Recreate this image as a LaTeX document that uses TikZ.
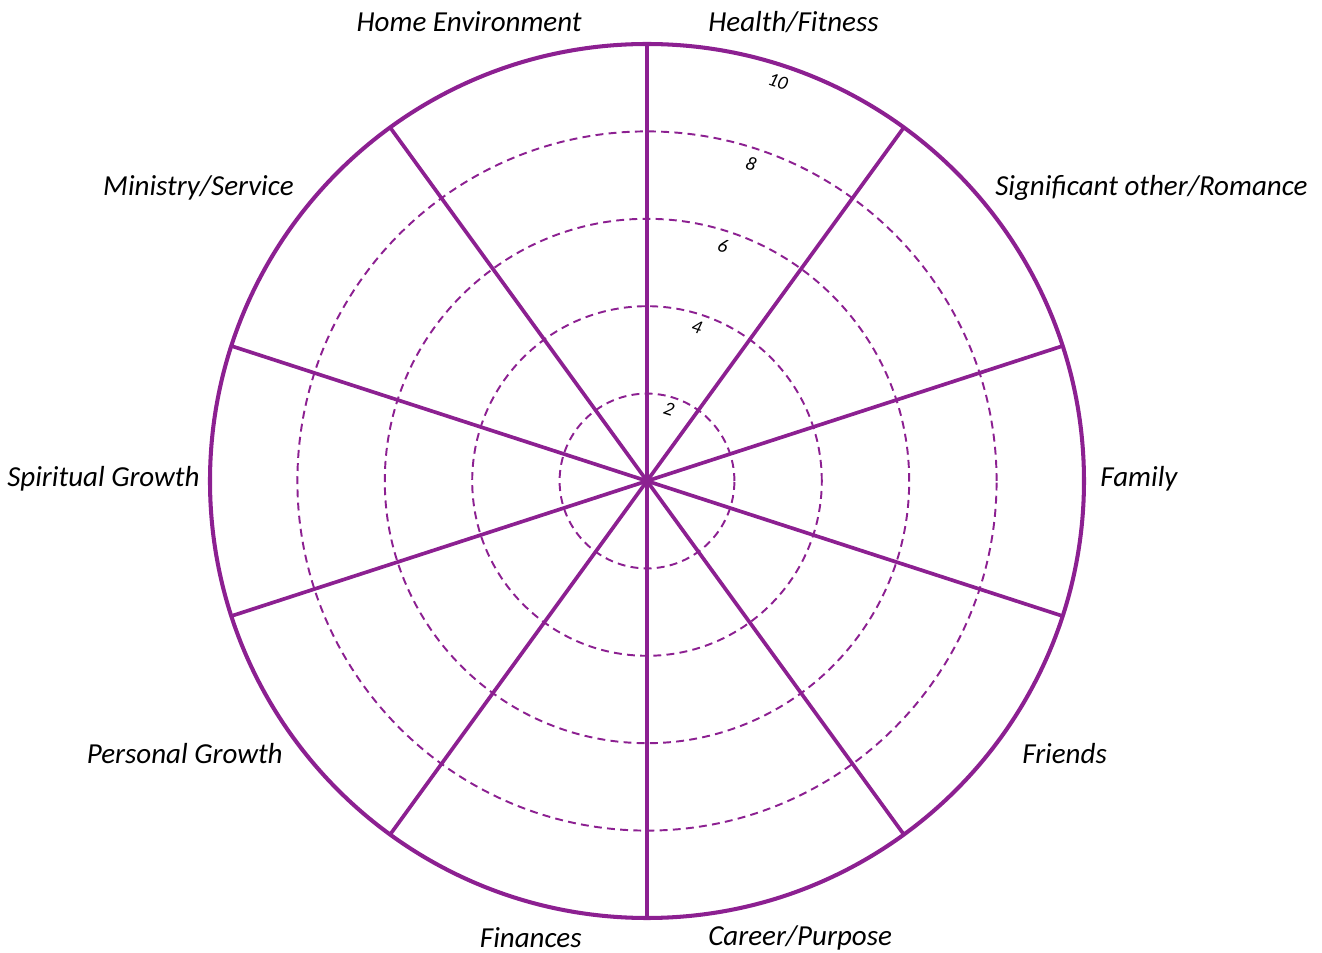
\documentclass[tikz,border=0pt]{standalone}
\usepackage{fontspec}
\setmainfont{Carlito}
\usepackage{tikz}
\usetikzlibrary{positioning}
\usetikzlibrary{calc}

\definecolor{wheelpurple}{RGB}{140,32,145}

\tikzset{
    rim/.style={draw=wheelpurple, line width=2.3pt},
    spoke/.style={draw=wheelpurple, line width=2.1pt},
    ring/.style={draw=wheelpurple, line width=1.1pt, dash pattern=on 4.5pt off 3pt},
    area/.style={font=\fontsize{16.5}{19}\selectfont\itshape, inner sep=0pt},
    score/.style={font=\fontsize{11}{12}\selectfont\itshape, inner sep=0pt, rotate=-18},
}

\begin{document}
\begin{tikzpicture}[x=0.02cm, y=0.02cm]
    \useasboundingbox (-647,-472) rectangle (675,481);

    \coordinate (c) at (0,0);

    % rings
    \foreach \r in {87.4,174.8,262.2,349.6} {
        \draw[ring] (c) circle (\r);
    }

    % spokes
    \foreach \a in {90,54,18,-18,-54} {
        \draw[spoke] ($(c)+(\a:437)$) -- ($(c)+(\a+180:437)$);
    }

    \draw[rim] (c) circle (437);

    % scale
    \node[score] (s2) at (22,72) {2};
    \node[score] (s4) at (50,154) {4};
    \node[score] (s6) at (76,235) {6};
    \node[score] (s8) at (104,317) {8};
    \node[score] (s10) at (131,399) {10};

    % right side
    \node[area, anchor=west] (health) at (61,459) {Health/Fitness};
    \node[area, anchor=west] (romance) at (348,293) {Significant other/Romance};
    \node[area, anchor=west] (family) at (453,2) {Family};
    \node[area, anchor=west] (friends) at (375,-273) {Friends};
    \node[area, anchor=west] (career) at (61,-457) {Career/Purpose};

    % left side
    \node[area, anchor=east] (home) at (-65,459) {Home Environment};
    \node[area, anchor=east] (ministry) at (-353,293) {Ministry/Service};
    \node[area, anchor=east] (spiritual) at (-447,2) {Spiritual Growth};
    \node[area, anchor=east] (personal) at (-364,-273) {Personal Growth};
    \node[area, anchor=east] (finances) at (-65,-457) {Finances};
\end{tikzpicture}
\end{document}
